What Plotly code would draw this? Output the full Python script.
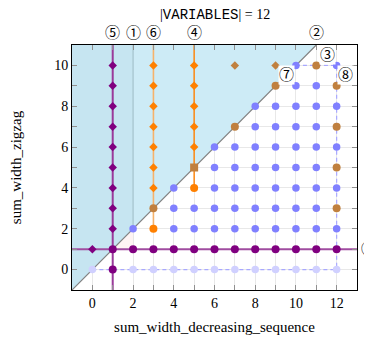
import plotly.graph_objects as go

# data
n_variables = 12
x_range = [-1, 13]
y_range = [-1, 11]

# blue dots per row (y -> x values)
blue_rows = {
    2: [2, 4, 5, 6, 7, 8, 9, 10, 11, 12],
    3: [4, 5, 6, 7, 8, 9, 10, 11],
    4: [4, 6, 7, 8, 9, 10, 11, 12],
    5: [6, 7, 8, 9, 10, 11],
    6: [6, 7, 8, 9, 10, 11, 12],
    7: [8, 9, 10, 11],
    8: [8, 9, 10, 11, 12],
    9: [10, 11],
    10: [10, 12],
}
lavender_x = [0, 2, 3, 4, 5, 6, 7, 8, 9, 10, 11, 12]
lavender_y = [0, 0, 0, 0, 0, 0, 0, 0, 0, 0, 0, 0]

purple_x = [1, 1, 2, 3, 4, 5, 6, 7, 8, 9, 10, 11, 12]
purple_y = [0, 1, 1, 1, 1, 1, 1, 1, 1, 1, 1, 1, 1]
purple_small_x = [0, 1, 1, 1, 1, 1, 1, 1, 1, 1]
purple_small_y = [1, 2, 3, 4, 5, 6, 7, 8, 9, 10]

orange_small_x = [3, 3, 3, 3, 3, 3, 3, 5, 5, 5, 5, 5]
orange_small_y = [4, 5, 6, 7, 8, 9, 10, 6, 7, 8, 9, 10]
orange_x = [3, 5]
orange_y = [2, 4]

brown_small_x = [7, 9]
brown_small_y = [10, 10]
brown_x = [3, 7, 9, 11, 12, 12, 12, 12]
brown_y = [3, 7, 9, 10, 9, 7, 5, 3]
brown_sq_x = [5]
brown_sq_y = [5]

# boundary lines
diag_x = [-1, 11]
diag_y = [-1, 11]
dash_top_x = [10, 12, 12]
dash_top_y = [10, 10, 0]

# circled labels
top_labels = [("\u2464", 1), ("\u2460", 2), ("\u2465", 3), ("\u2463", 5), ("\u2461", 11)]
inner_labels = [("\u2462", 11.55, 10.5), ("\u2466", 9.55, 9.55), ("\u2467", 12.45, 9.55)]
side_label = ("\u2468", 1.0)

SERIF = "Liberation Serif, DejaVu Serif, serif"
CIRC = "DejaVu Serif, Noto Sans CJK SC"

fig = go.Figure()

# shaded regions above diagonal
fig.add_trace(go.Scatter(x=[-1, -1, 11, -1], y=[-1, 11, 11, -1], fill="toself",
                         fillcolor="#cdebf6", line=dict(width=0), mode="lines",
                         hoverinfo="skip"))
fig.add_trace(go.Scatter(x=[-1, -1, 2, 2, -1], y=[-1, 11, 11, 2, -1], fill="toself",
                         fillcolor="rgba(120,160,180,0.07)", line=dict(width=0),
                         mode="lines", hoverinfo="skip"))
fig.add_trace(go.Scatter(x=[1, 2, 2, 1], y=[1, 2, 1, 1], fill="toself",
                         fillcolor="rgba(250,200,200,0.2)", line=dict(width=0),
                         mode="lines", hoverinfo="skip"))

fig.add_trace(go.Scatter(x=[2, 2], y=[2, 11], mode="lines",
                         line=dict(color="#a4c2cc", width=1.2)))
fig.add_trace(go.Scatter(x=diag_x, y=diag_y, mode="lines",
                         line=dict(color="#808080", width=1.2)))

# dashed
fig.add_trace(go.Scatter(x=[0, 12], y=[0, 0], mode="lines",
                         line=dict(color="#a8a8ff", width=1.2, dash="4px,3px")))
fig.add_trace(go.Scatter(x=dash_top_x, y=dash_top_y, mode="lines",
                         line=dict(color="#a8a8ff", width=1.2, dash="4px,3px")))

# colored lines
fig.add_trace(go.Scatter(x=[3, 3], y=[2, 11], mode="lines",
                         line=dict(color="#f6b26b", width=1.6)))
fig.add_trace(go.Scatter(x=[5, 5], y=[4, 11], mode="lines",
                         line=dict(color="#ff8000", width=1.4)))
fig.add_trace(go.Scatter(x=[1, 1], y=[-1, 11], mode="lines",
                         line=dict(color="#9a3a9a", width=2)))
fig.add_trace(go.Scatter(x=[-1, 13], y=[1, 1], mode="lines",
                         line=dict(color="#a04ca0", width=2)))

# points
bx, by = [], []
for yy, xs in blue_rows.items():
    bx += xs
    by += [yy] * len(xs)
fig.add_trace(go.Scatter(x=bx, y=by, mode="markers",
                         marker=dict(color="#8080ff", size=7.5, line=dict(width=0))))
fig.add_trace(go.Scatter(x=lavender_x, y=lavender_y, mode="markers",
                         marker=dict(color="#d0d0ff", size=7.5, line=dict(width=0))))
fig.add_trace(go.Scatter(x=purple_x, y=purple_y, mode="markers",
                         marker=dict(color="#800080", size=8, line=dict(width=0))))
fig.add_trace(go.Scatter(x=purple_small_x, y=purple_small_y, mode="markers",
                         marker=dict(color="#800080", size=6.5, symbol="diamond", line=dict(width=0))))
fig.add_trace(go.Scatter(x=orange_small_x, y=orange_small_y, mode="markers",
                         marker=dict(color="#ff8000", size=6.5, symbol="diamond", line=dict(width=0))))
fig.add_trace(go.Scatter(x=orange_x, y=orange_y, mode="markers",
                         marker=dict(color="#ff8000", size=8, line=dict(width=0))))
fig.add_trace(go.Scatter(x=brown_small_x, y=brown_small_y, mode="markers",
                         marker=dict(color="#c0803f", size=6.5, symbol="diamond", line=dict(width=0))))
fig.add_trace(go.Scatter(x=brown_x, y=brown_y, mode="markers",
                         marker=dict(color="#c0803f", size=8, line=dict(width=0))))
fig.add_trace(go.Scatter(x=brown_sq_x, y=brown_sq_y, mode="markers",
                         marker=dict(color="#c0803f", size=8, symbol="square", line=dict(width=0))))

lab_font = dict(family=CIRC, size=15, color="black")
for txt, lx in top_labels:
    fig.add_annotation(x=lx, y=1.047, xref="x", yref="paper", text=txt, showarrow=False,
                       font=lab_font, yanchor="middle")
for txt, lx, ly in inner_labels:
    fig.add_annotation(x=lx, y=ly, xref="x", yref="y", text=txt, showarrow=False,
                       font=lab_font, bgcolor="white", borderpad=0)
fig.add_annotation(x=1.0, xanchor="left", xshift=2, y=side_label[1], xref="paper", yref="y",
                   text=side_label[0], showarrow=False, font=lab_font)

axis_common = dict(
    showline=True, linecolor="black", linewidth=1, mirror="allticks",
    ticks="inside", ticklen=5, tickcolor="#909090",
    showgrid=True, gridcolor="rgba(0,0,0,0.09)", gridwidth=1,
    zeroline=False, dtick=2, automargin=False,
    minor=dict(dtick=1, ticks="inside", ticklen=5, tickcolor="#909090",
               showgrid=True, gridcolor="rgba(0,0,0,0.09)"),
    tickfont=dict(family=SERIF, size=14, color="black"),
)

fig.update_layout(
    # page body adds an 8px offset, so the figure is 8px smaller each way
    width=364, height=330,
    margin=dict(l=64, r=15, t=37, b=48),
    paper_bgcolor="white", plot_bgcolor="white",
    showlegend=False,
    title=dict(
        text="|<span style=\"font-family:Liberation Mono\">VARIABLES</span>| = %d" % n_variables,
        x=0.569, xanchor="center", y=0.981, yanchor="middle",
        font=dict(family=SERIF, size=14, color="black")),
    xaxis=dict(range=x_range, title=dict(text="sum_width_decreasing_sequence",
               font=dict(family=SERIF, size=15, color="black"), standoff=11), **axis_common),
    yaxis=dict(range=y_range, title=dict(text="sum_width_zigzag",
               font=dict(family=SERIF, size=15, color="black"), standoff=35), **axis_common),
)

fig.write_html("out.html")
